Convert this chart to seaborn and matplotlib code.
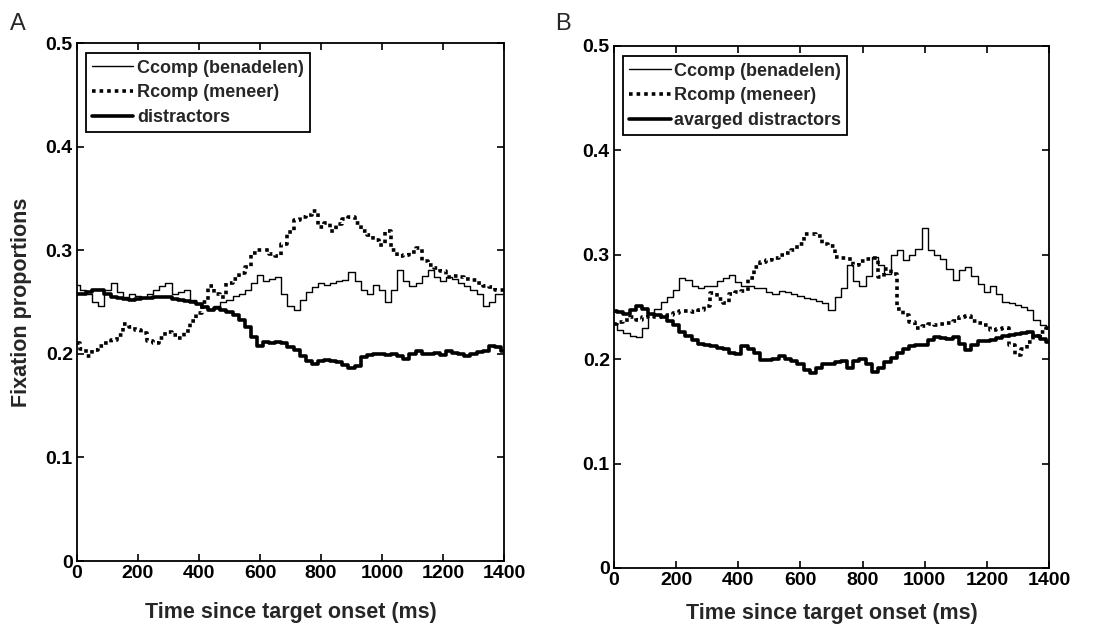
import numpy as np
import pandas as pd
import matplotlib
matplotlib.use("Agg")
import matplotlib.pyplot as plt
import seaborn as sns

# ---- data (time in ms, fixation proportions) ----
time_ms = list(range(0, 1401, 20))

a_ccomp = [0.266, 0.262, 0.258, 0.250, 0.246, 0.262, 0.268, 0.260, 0.255, 0.258,
           0.256, 0.254, 0.258, 0.262, 0.265, 0.268, 0.258, 0.260, 0.262, 0.252,
           0.248, 0.246, 0.242, 0.246, 0.250, 0.252, 0.256, 0.258, 0.262, 0.268,
           0.276, 0.270, 0.272, 0.274, 0.258, 0.246, 0.242, 0.252, 0.260, 0.264,
           0.268, 0.266, 0.268, 0.270, 0.271, 0.279, 0.270, 0.262, 0.258, 0.266,
           0.262, 0.250, 0.262, 0.281, 0.270, 0.265, 0.268, 0.275, 0.281, 0.274,
           0.270, 0.274, 0.272, 0.268, 0.265, 0.262, 0.258, 0.246, 0.250, 0.258,
           0.258]
a_rcomp = [0.210, 0.205, 0.198, 0.204, 0.208, 0.210, 0.213, 0.218, 0.229, 0.226,
           0.223, 0.220, 0.212, 0.210, 0.215, 0.221, 0.218, 0.215, 0.222, 0.232,
           0.239, 0.250, 0.265, 0.258, 0.255, 0.268, 0.272, 0.278, 0.284, 0.297,
           0.300, 0.300, 0.296, 0.294, 0.306, 0.318, 0.329, 0.332, 0.334, 0.338,
           0.322, 0.326, 0.319, 0.325, 0.330, 0.332, 0.326, 0.319, 0.315, 0.310,
           0.305, 0.319, 0.300, 0.294, 0.295, 0.298, 0.302, 0.290, 0.286, 0.283,
           0.280, 0.274, 0.275, 0.274, 0.272, 0.271, 0.268, 0.265, 0.264, 0.262,
           0.262]
a_distr = [0.258, 0.258, 0.260, 0.262, 0.262, 0.258, 0.255, 0.254, 0.253, 0.252,
           0.253, 0.254, 0.254, 0.255, 0.255, 0.255, 0.253, 0.252, 0.251, 0.250,
           0.248, 0.245, 0.242, 0.244, 0.242, 0.240, 0.237, 0.233, 0.226, 0.216,
           0.208, 0.211, 0.210, 0.211, 0.210, 0.207, 0.204, 0.198, 0.193, 0.190,
           0.193, 0.194, 0.193, 0.192, 0.189, 0.186, 0.188, 0.197, 0.199, 0.200,
           0.200, 0.199, 0.200, 0.198, 0.195, 0.200, 0.203, 0.200, 0.200, 0.201,
           0.199, 0.203, 0.201, 0.200, 0.198, 0.200, 0.202, 0.203, 0.208, 0.207,
           0.203]

b_ccomp = [0.235, 0.228, 0.225, 0.222, 0.221, 0.230, 0.243, 0.248, 0.255, 0.260,
           0.266, 0.278, 0.276, 0.270, 0.268, 0.270, 0.270, 0.275, 0.278, 0.281,
           0.274, 0.270, 0.270, 0.268, 0.268, 0.264, 0.262, 0.265, 0.264, 0.262,
           0.261, 0.259, 0.258, 0.256, 0.254, 0.247, 0.260, 0.268, 0.290, 0.275,
           0.270, 0.280, 0.298, 0.290, 0.282, 0.300, 0.305, 0.295, 0.300, 0.306,
           0.326, 0.305, 0.300, 0.296, 0.286, 0.276, 0.285, 0.288, 0.280, 0.272,
           0.264, 0.270, 0.262, 0.255, 0.254, 0.252, 0.250, 0.247, 0.238, 0.233,
           0.231]
b_rcomp = [0.234, 0.236, 0.238, 0.240, 0.238, 0.240, 0.241, 0.240, 0.241, 0.242,
           0.244, 0.246, 0.246, 0.245, 0.247, 0.251, 0.263, 0.258, 0.254, 0.262,
           0.264, 0.265, 0.278, 0.288, 0.293, 0.295, 0.297, 0.300, 0.302, 0.305,
           0.310, 0.320, 0.320, 0.318, 0.310, 0.308, 0.298, 0.297, 0.296, 0.290,
           0.294, 0.296, 0.297, 0.279, 0.286, 0.282, 0.248, 0.242, 0.236, 0.230,
           0.232, 0.234, 0.233, 0.234, 0.235, 0.237, 0.240, 0.241, 0.237, 0.235,
           0.233, 0.228, 0.229, 0.230, 0.214, 0.204, 0.210, 0.216, 0.222, 0.226,
           0.230]
b_distr = [0.246, 0.245, 0.243, 0.247, 0.251, 0.248, 0.243, 0.242, 0.240, 0.237,
           0.233, 0.226, 0.222, 0.218, 0.215, 0.214, 0.213, 0.211, 0.210, 0.206,
           0.205, 0.213, 0.210, 0.206, 0.199, 0.199, 0.200, 0.203, 0.200, 0.198,
           0.195, 0.190, 0.187, 0.192, 0.195, 0.195, 0.197, 0.198, 0.192, 0.198,
           0.200, 0.195, 0.188, 0.192, 0.197, 0.201, 0.206, 0.210, 0.213, 0.214,
           0.214, 0.218, 0.221, 0.220, 0.219, 0.221, 0.215, 0.209, 0.214, 0.217,
           0.217, 0.218, 0.220, 0.222, 0.223, 0.224, 0.225, 0.226, 0.222, 0.219,
           0.216]

labels_a = ["Ccomp (benadelen)", "Rcomp (meneer)", "distractors"]
labels_b = ["Ccomp (benadelen)", "Rcomp (meneer)", "avarged distractors"]
x_ticks = [0, 200, 400, 600, 800, 1000, 1200, 1400]
y_ticks = [0, 0.1, 0.2, 0.3, 0.4, 0.5]
y_tick_labels = ["0", "0.1", "0.2", "0.3", "0.4", "0.5"]

# ---- style ----
sns.set_style("white")
plt.rcParams["font.family"] = ["Liberation Sans", "DejaVu Sans"]

fig = plt.figure(figsize=(10.95, 6.24), dpi=100)
axA = fig.add_axes([77 / 1095, 63 / 624, 427 / 1095, 518 / 624])
axB = fig.add_axes([614 / 1095, 56 / 624, 435 / 1095, 522 / 624])

styles = [
    dict(linewidth=1.0, linestyle="-"),
    dict(linewidth=2.6, linestyle=(0, (1.0, 1.1))),
    dict(linewidth=2.6, linestyle="-"),
]


def draw(ax, series, labels, xpad):
    for vals, lab, st in zip(series, labels, styles):
        df = pd.DataFrame({"t": time_ms, "v": vals})
        sns.lineplot(data=df, x="t", y="v", ax=ax, color="black", label=lab,
                     estimator=None, drawstyle="steps-mid", **st)
    ax.set_xlim(0, 1400)
    ax.set_ylim(0, 0.5)
    ax.set_xticks(x_ticks)
    ax.set_xticklabels([str(v) for v in x_ticks], fontsize=14, fontweight="bold")
    ax.set_yticks(y_ticks)
    ax.set_yticklabels(y_tick_labels, fontsize=14, fontweight="bold")
    ax.tick_params(direction="in", length=5, width=1.2, top=True, right=True,
                   bottom=True, left=True, pad=3, colors="black")
    for sp in ax.spines.values():
        sp.set_visible(True)
        sp.set_color("black")
        sp.set_linewidth(1.3)
    ax.set_xlabel("Time since target onset (ms)", fontsize=15.5, fontweight="bold",
                  labelpad=xpad)
    ax.set_ylabel("")
    leg = ax.legend(loc="upper left", bbox_to_anchor=(0.02, 0.98), frameon=True,
                    fancybox=False, edgecolor="black", framealpha=1,
                    prop=dict(weight="bold", size=13.0), handlelength=2.3,
                    handletextpad=0.2, labelspacing=0.42, borderpad=0.35,
                    borderaxespad=0.0)
    leg.get_frame().set_linewidth(1.3)


draw(axA, [a_ccomp, a_rcomp, a_distr], labels_a, 14)
draw(axB, [b_ccomp, b_rcomp, b_distr], labels_b, 10)

axA.set_ylabel("Fixation proportions", fontsize=15.5, fontweight="bold", labelpad=10)

fig.text(10 / 1095, 1 - 24 / 624, "A", fontsize=17, va="center", ha="left")
fig.text(555 / 1095, 1 - 24 / 624, "B", fontsize=17, va="center", ha="left")

fig.savefig("out.png", dpi=100, facecolor="white")
